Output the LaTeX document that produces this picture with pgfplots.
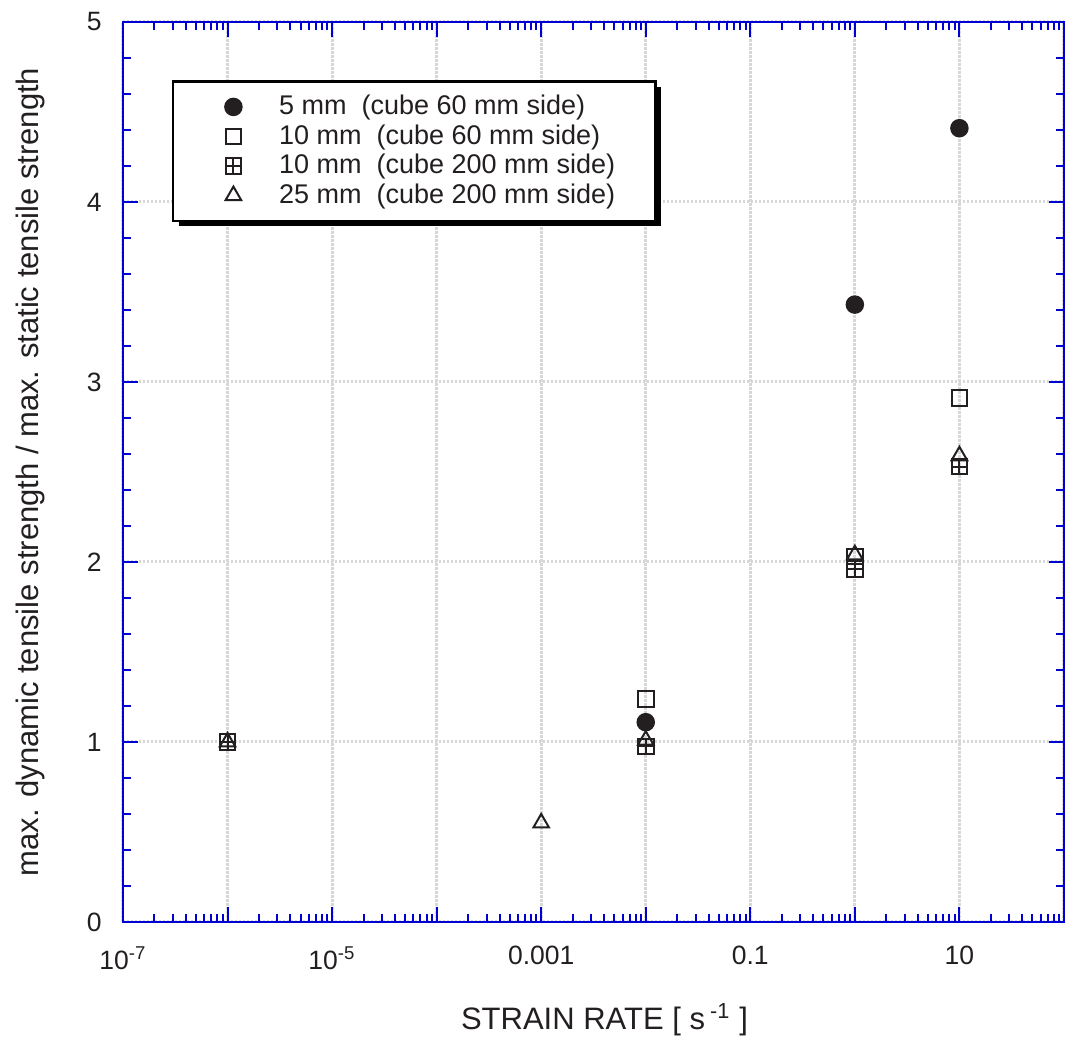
\documentclass[border=0pt]{standalone}
\usepackage{fontspec}
\setmainfont{Liberation Sans}
\usepackage{pgfplots}
\pgfplotsset{compat=1.18}
\usetikzlibrary{shadows}

\definecolor{axisblue}{RGB}{0,0,210}
\definecolor{gridgray}{RGB}{215,215,215}
\definecolor{ink}{RGB}{35,31,32}

% open square with a plus inside
\pgfdeclareplotmark{crosssquare}{%
  \pgfpathrectangle{\pgfqpoint{-\pgfplotmarksize}{-\pgfplotmarksize}}{\pgfqpoint{2\pgfplotmarksize}{2\pgfplotmarksize}}%
  \pgfpathmoveto{\pgfqpoint{-\pgfplotmarksize}{0pt}}\pgfpathlineto{\pgfqpoint{\pgfplotmarksize}{0pt}}%
  \pgfpathmoveto{\pgfqpoint{0pt}{-\pgfplotmarksize}}\pgfpathlineto{\pgfqpoint{0pt}{\pgfplotmarksize}}%
  \pgfusepathqstroke}

\begin{document}
\begin{tikzpicture}
\useasboundingbox (-49.2pt,-47.6pt) rectangle (377.2pt,368.8pt);
\begin{axis}[
  scale only axis,
  width=376.4pt, height=360pt,
  xmode=log, log basis x=10,
  xmin=1e-7, xmax=100,
  ymin=0, ymax=5,
  xtick={1e-7,1e-6,1e-5,1e-4,1e-3,1e-2,1e-1,1,10,100},
  xticklabels={10\textsuperscript{-7},,10\textsuperscript{-5},,0.001,,0.1,,10,},
  ytick={0,1,2,3,4,5},
  minor ytick={0.2,0.4,...,4.8},
  minor xtick={2e-7,3e-7,4e-7,5e-7,6e-7,7e-7,8e-7,9e-7,
    2e-6,3e-6,4e-6,5e-6,6e-6,7e-6,8e-6,9e-6,
    2e-5,3e-5,4e-5,5e-5,6e-5,7e-5,8e-5,9e-5,
    2e-4,3e-4,4e-4,5e-4,6e-4,7e-4,8e-4,9e-4,
    2e-3,3e-3,4e-3,5e-3,6e-3,7e-3,8e-3,9e-3,
    2e-2,3e-2,4e-2,5e-2,6e-2,7e-2,8e-2,9e-2,
    0.2,0.3,0.4,0.5,0.6,0.7,0.8,0.9,
    2,3,4,5,6,7,8,9,
    20,30,40,50,60,70,80,90},
  tick align=inside,
  major tick length=6pt,
  minor tick length=3.2pt,
  every tick/.style={axisblue, line width=0.8pt},
  axis line style={axisblue, line width=0.9pt},
  xmajorgrids, ymajorgrids,
  major grid style={gridgray, line width=1.2pt, dash pattern=on 1pt off 0.6pt},
  ticklabel style={font=\fontsize{10.6}{12}\selectfont, text=ink},
  xticklabel style={yshift=-6.2pt},
  yticklabel style={xshift=-5pt},
  /pgf/number format/assume math mode=true,
  xlabel={STRAIN RATE [ s\,\textsuperscript{-1} ]},
  ylabel={max. dynamic tensile strength / max. static tensile strength},
  label style={font=\fontsize{12.4}{14}\selectfont, text=ink},
  xlabel style={at={(axis description cs:0.5,-0.1089)}, anchor=center, xshift=4.4pt},
  ylabel style={at={(axis description cs:-0.0988,0.5)}, anchor=center},
  legend style={
    at={(axis description cs:0.052,0.935)}, anchor=north west,
    draw=black, line width=1pt, fill=white,
    drop shadow={shadow xshift=2.2pt, shadow yshift=-2.2pt, fill=black, opacity=1},
    font=\fontsize{10.8}{12.5}\selectfont, text=ink,
    inner xsep=14pt, inner ysep=3.4pt,
    row sep=-1.5pt,
  },
  legend cell align=left,
  legend image code/.code={%
    \path (-9.7pt,0pt) (3.3pt,0pt);
    \draw[#1, line width=0.8pt] plot coordinates {(0pt,0pt)};},
  clip=false,
]
% 5 mm, cube 60 mm side
\addplot[only marks, mark=*, mark size=3.3pt, draw=ink, fill=ink, line width=0.8pt]
  coordinates {(0.01,1.11) (1,3.43) (10,4.41)};
\addlegendentry{\hspace{12.6pt}5 mm\ \ (cube 60 mm side)}
% 10 mm, cube 60 mm side
\addplot[only marks, mark=square, mark size=3.1pt, draw=ink, line width=0.8pt]
  coordinates {(1e-6,1.0) (0.01,1.24) (1,2.03) (10,2.91)};
\addlegendentry{\hspace{12.6pt}10 mm\ \ (cube 60 mm side)}
% 10 mm, cube 200 mm side
\addplot[only marks, mark=crosssquare, mark size=3.1pt, draw=ink, line width=0.8pt]
  coordinates {(1e-6,1.0) (0.01,0.975) (1,1.96) (10,2.53)};
\addlegendentry{\hspace{12.6pt}10 mm\ \ (cube 200 mm side)}
% 25 mm, cube 200 mm side
\addplot[only marks, mark=triangle, mark size=3.6pt, draw=ink, line width=0.8pt]
  coordinates {(1e-6,1.0) (0.001,0.55) (0.01,1.01) (1,2.04) (10,2.59)};
\addlegendentry{\hspace{12.6pt}25 mm\ \ (cube 200 mm side)}
\end{axis}
\end{tikzpicture}
\end{document}
